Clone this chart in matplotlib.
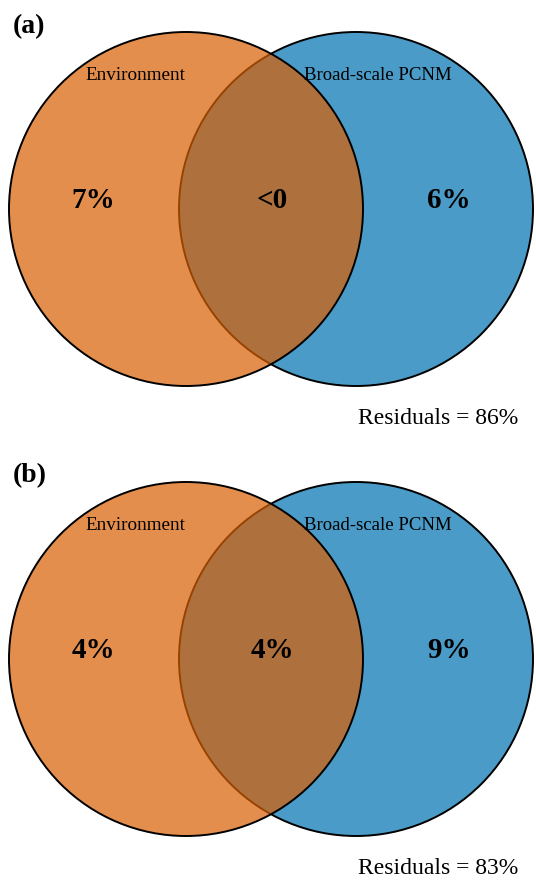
import matplotlib
matplotlib.use("Agg")
import matplotlib.pyplot as plt
from matplotlib.patches import Circle

plt.rcParams['font.family'] = ['Liberation Serif', 'DejaVu Serif']

# Variation partitioning results
panel_tags = ["(a)", "(b)"]
set_names = ["Environment", "Broad-scale PCNM"]
env_only = ["7%", "4%"]
shared = ["<0", "4%"]
pcnm_only = ["6%", "9%"]
residuals = ["86%", "83%"]

W, H = 536, 885
fig = plt.figure(figsize=(W / 100, H / 100), dpi=100)
ax = fig.add_axes([0, 0, 1, 1])
ax.set_xlim(0, W)
ax.set_ylim(H, 0)
ax.set_aspect('equal')
ax.axis('off')

orange = '#D95F02'
blue = '#4A9BC7'
r = 177
cx_left, cx_right = 186, 356
panel_cy = [209, 659]
panel_top = [27, 476]

for i in range(2):
    cy = panel_cy[i]
    ax.add_patch(Circle((cx_right, cy), r, facecolor=blue, edgecolor='black', lw=1.4, zorder=1))
    ax.add_patch(Circle((cx_left, cy), r, facecolor=orange, alpha=0.7, edgecolor='none', zorder=2))
    ax.add_patch(Circle((cx_left, cy), r, facecolor='none', edgecolor='black', lw=1.4, zorder=3))

    ax.text(13, panel_top[i], panel_tags[i], fontsize=20, fontweight='bold', ha='left', va='center')
    ax.text(135, cy - 134, set_names[0], fontsize=13.8, ha='center', va='center', zorder=4)
    ax.text(378, cy - 134, set_names[1], fontsize=13.5, ha='center', va='center', zorder=4)

    ax.text(93, cy - 9, env_only[i], fontsize=21, fontweight='bold', ha='center', va='center', zorder=4)
    ax.text(272, cy - 9, shared[i], fontsize=21, fontweight='bold', ha='center', va='center', zorder=4)
    ax.text(449, cy - 9, pcnm_only[i], fontsize=21, fontweight='bold', ha='center', va='center', zorder=4)

    ax.text(438, cy + 210, "Residuals = " + residuals[i], fontsize=17, ha='center', va='center')

fig.savefig("out.png", dpi=100)
